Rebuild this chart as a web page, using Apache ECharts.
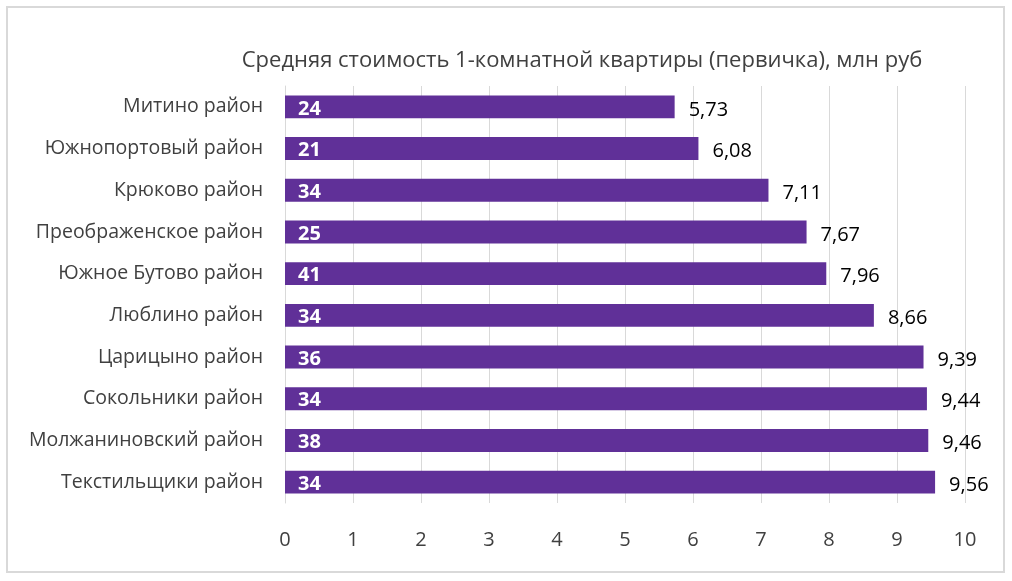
<!DOCTYPE html>
<html><head><meta charset="utf-8">
<script src="https://cdn.jsdelivr.net/npm/echarts@6/dist/echarts.min.js"></script>
<style>html,body{margin:0;padding:0;background:#fff}#c{width:1012px;height:581px}</style>
</head><body><div id="c"></div>
<script>
const categories = ["Митино район","Южнопортовый район","Крюково район","Преображенское район","Южное Бутово район","Люблино район","Царицыно район","Сокольники район","Молжаниновский район","Текстильщики район"];
const prices = [5.73, 6.08, 7.11, 7.67, 7.96, 8.66, 9.39, 9.44, 9.46, 9.56];
const counts = [24, 21, 34, 25, 41, 34, 36, 34, 38, 34];
const xTicks = [0,1,2,3,4,5,6,7,8,9,10];
const titleText = "Средняя стоимость 1-комнатной квартиры (первичка), млн руб";

const FONT = "'Open Sans',sans-serif";
const chart = echarts.init(document.getElementById('c'), null, {renderer:'canvas'});
chart.setOption({
  animation:false,
  backgroundColor:'#fff',
  graphic:[{type:'rect',shape:{x:7,y:7,width:997,height:565},style:{fill:'none',stroke:'#d9d9d9',lineWidth:2},z:-1}],
  title:{text:titleText,left:577,textAlign:'center',top:45,textStyle:{fontFamily:FONT,fontSize:22,fontWeight:'normal',color:'#404040'}},
  grid:{left:285,right:47,top:86,bottom:78},
  xAxis:{type:'value',min:xTicks[0],max:xTicks[xTicks.length-1],interval:1,
    axisLine:{show:false},axisTick:{show:false},
    splitLine:{lineStyle:{color:'#d9d9d9',width:1}},
    axisLabel:{fontFamily:FONT,fontSize:20,color:'#404040',margin:27}},
  yAxis:{type:'category',data:categories,inverse:true,
    axisLine:{show:true,lineStyle:{color:'#d9d9d9'}},axisTick:{show:false},
    axisLabel:{fontFamily:FONT,fontSize:19.5,color:'#404040',margin:22}},
  series:[
    {type:'bar',data:prices,barCategoryGap:'45%',itemStyle:{color:'#603098'},
     label:{show:true,position:'right',distance:14,fontFamily:FONT,fontSize:20,color:'#000',offset:[0,3],
       formatter:p=>p.value.toFixed(2).replace('.',',')}},
    {type:'bar',data:prices,barGap:'-100%',barCategoryGap:'45%',itemStyle:{color:'rgba(0,0,0,0)'},
     label:{show:true,position:'insideLeft',distance:13,fontFamily:FONT,fontSize:20,fontWeight:'bold',color:'#fff',offset:[0,2],
       formatter:p=>String(counts[p.dataIndex])}}
  ]
});
</script></body></html>
